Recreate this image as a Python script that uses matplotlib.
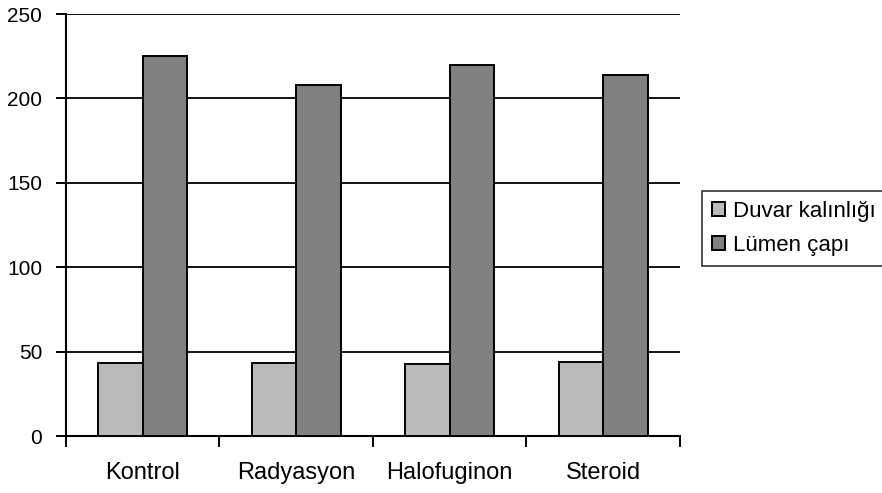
import matplotlib.pyplot as plt
import numpy as np

# --- dados ---
categorias = ['Kontrol', 'Radyasyon', 'Halofuginon', 'Steroid']
duvar_kalinligi = [43.5, 43.5, 42.5, 44.0]
lumen_capi = [225, 208, 220, 214]
series_nomes = ['Duvar kalınlığı', 'Lümen çapı']
yticks = [0, 50, 100, 150, 200, 250]

plt.rcParams['font.family'] = ['Liberation Sans', 'DejaVu Sans']

fig = plt.figure(figsize=(8.82, 4.93), dpi=100)
ax = fig.add_axes([0.0748, 0.1156, 0.696, 0.856])

x = np.arange(len(categorias))
w = 0.29
ax.bar(x - w / 2, duvar_kalinligi, w, color='#bababa', edgecolor='black',
       linewidth=1.4, label=series_nomes[0], zorder=3)
ax.bar(x + w / 2, lumen_capi, w, color='#808080', edgecolor='black',
       linewidth=1.4, label=series_nomes[1], zorder=3)

ax.set_xlim(-0.5, len(categorias) - 0.5)
ax.set_ylim(0, 250)
ax.set_yticks(yticks)
ax.set_yticklabels([str(v) for v in yticks], fontsize=15)

# ticks entre categorias, rótulos no centro
ax.set_xticks(np.arange(len(categorias) + 1) - 0.5)
ax.set_xticklabels([])
ax.set_xticks(x, minor=True)
ax.set_xticklabels(categorias, minor=True, fontsize=17)
ax.tick_params(axis='x', which='major', length=8, width=1.4, direction='out')
ax.tick_params(axis='x', which='minor', length=0, pad=19)
ax.tick_params(axis='y', length=7, width=1.4, pad=10)

ax.grid(axis='y', color='black', linewidth=1.3, zorder=1)
ax.set_axisbelow(True)
for s in ['top', 'right']:
    ax.spines[s].set_visible(False)
for s in ['left', 'bottom']:
    ax.spines[s].set_linewidth(1.5)

leg = fig.legend(loc='upper left', bbox_to_anchor=(0.796, 0.613),
                 fontsize=16, frameon=True, fancybox=False,
                 handlelength=0.6, handleheight=0.6, handletextpad=0.35,
                 borderpad=0.45, labelspacing=0.6, borderaxespad=0)
leg.get_frame().set_edgecolor('black')
leg.get_frame().set_linewidth(1.2)

fig.savefig('out.png', dpi=100, facecolor='white')
